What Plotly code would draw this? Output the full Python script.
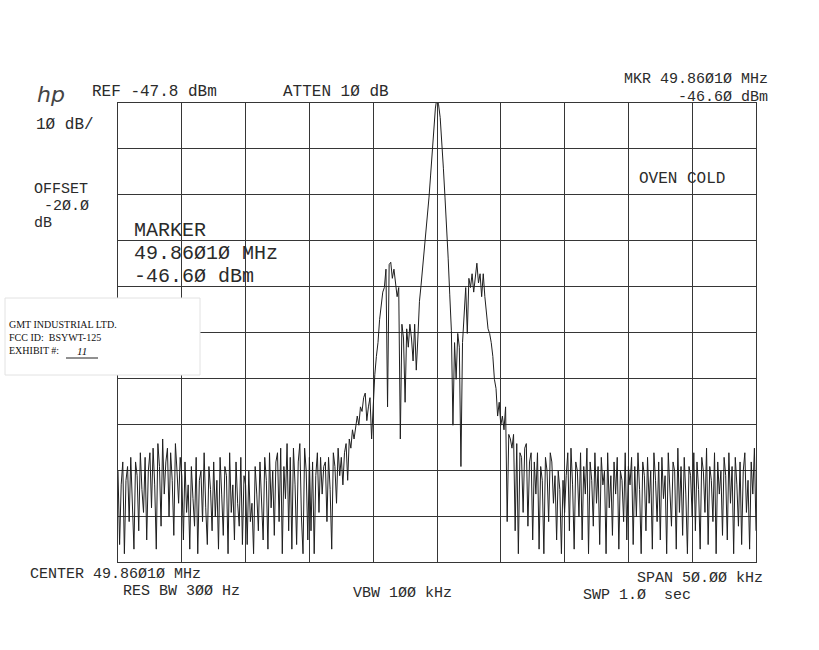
import numpy as np
import plotly.graph_objects as go

# ---------------- data (read from the plotter output) ----------------
CENTER_MHZ = 49.86010
SPAN_KHZ = 50.0
REF_DBM = -47.8
DB_PER_DIV = 10
N_DIV_X = 10
N_DIV_Y = 10
MARKER_KHZ = 0.0
MARKER_DBM = -46.60

# sweep points 0..139 (noise floor left of the signal)
noise_left_dbm = [
    -128, -144, -131, -126, -146, -130, -127, -139, -125, -134, -145, -126, -129, -141, -124, -132, -137, -125, -143, -128,
    -124, -136, -123, -131, -145, -122, -127, -140, -121, -133, -126, -123, -138, -124, -130, -142, -122, -128, -135, -125,
    -129, -143, -126, -137, -131, -145, -127, -134, -140, -125, -146, -130, -128, -139, -124, -136, -144, -127, -132, -141,
    -126, -138, -130, -145, -125, -133, -142, -127, -129, -146, -124, -137, -131, -143, -126, -135, -140, -125, -144, -129,
    -131, -144, -128, -139, -135, -146, -127, -133, -141, -126, -137, -143, -125, -130, -145, -124, -136, -128, -142, -126,
    -124, -139, -123, -146, -127, -134, -122, -141, -125, -145, -123, -131, -144, -126, -122, -138, -146, -123, -128, -143,
    -125, -141, -126, -146, -129, -124, -137, -125, -133, -127, -126, -139, -125, -132, -145, -124, -127, -135, -123, -129,
]
# sweep points 140..260 (skirts, sidebands and carrier)
signal_dbm = [
    -125, -131, -124, -122, -130, -121, -123, -119, -121, -118, -116, -118, -114, -115, -112, -111, -117, -114, -112, -121,
    -113, -107, -103, -100, -95, -92, -89, -88, -84, -114, -83, -82.5, -86, -84, -87, -90, -88, -121, -96, -99,
    -113, -97, -101, -96, -99, -104, -96, -106, -99, -91, -87.5, -83.7, -81, -77, -72.9, -68.3, -63.5, -58, -53.7, -48.9,
    -46.6,
    -48.2, -51, -55.9, -62, -68.3, -74.4, -81.6, -89.6, -97.3, -118, -100, -108, -98, -101, -127, -100, -93, -88, -98, -86,
    -88, -85, -89, -85, -82.7, -87, -85, -90, -85, -90, -93, -97, -98, -100, -103, -108, -110, -116, -113, -118,
    -116, -119, -114, -139, -120, -121, -123, -120, -141, -122, -146, -124, -125, -137, -123, -122, -140, -126, -124, -143,
]
# sweep points 261..400 (noise floor right of the signal)
noise_right_dbm = [
    -126, -133, -124, -145, -127, -130, -146, -125, -128, -139, -124, -126, -135, -129, -143, -128, -132, -146, -130, -137,
    -129, -124, -141, -123, -131, -145, -126, -128, -138, -124, -143, -127, -133, -123, -146, -126, -130, -140, -124, -135,
    -127, -144, -125, -131, -128, -146, -124, -136, -129, -142, -126, -133, -125, -145, -128, -130, -139, -124, -143, -127,
    -131, -125, -144, -127, -138, -124, -132, -146, -126, -129, -141, -125, -135, -128, -145, -124, -130, -139, -126, -143,
    -125, -134, -129, -146, -124, -131, -140, -126, -128, -145, -123, -137, -127, -142, -125, -133, -146, -127, -129, -138,
    -124, -141, -126, -132, -145, -125, -128, -137, -123, -144, -127, -130, -139, -124, -146, -126, -133, -128, -142, -125,
    -129, -143, -124, -135, -127, -146, -125, -131, -140, -126, -144, -128, -124, -137, -130, -145, -126, -133, -123, -141,
]

trace_dbm = noise_left_dbm + signal_dbm + noise_right_dbm
freq_khz = np.linspace(-SPAN_KHZ / 2, SPAN_KHZ / 2, len(trace_dbm))

# ---------------- layout geometry ----------------
FIG_W, FIG_H = 819, 650
L, R, T, B = 118, 756, 103, 562      # plot area in pixels
PW, PH = R - L, B - T
INK = "#2b2b2b"
MONO = "Liberation Mono, DejaVu Sans Mono, monospace"
SERIF = "Liberation Serif, DejaVu Serif, serif"
FS = 15


def px(x):
    return (x - L) / PW


def py(y):
    return (B - y) / PH


def ann(text, x, y, xanchor="left", size=FS, family=MONO, color=INK):
    return dict(text=text, x=px(x), y=py(y), xref="paper", yref="paper",
                xanchor=xanchor, yanchor="middle", showarrow=False,
                font=dict(family=family, size=size, color=color))


fig = go.Figure()
fig.add_trace(go.Scatter(
    x=freq_khz, y=trace_dbm, mode="lines",
    line=dict(color="#1f1f1f", width=1), hoverinfo="skip", showlegend=False))
fig.add_trace(go.Scatter(
    x=[MARKER_KHZ], y=[MARKER_DBM], mode="markers",
    marker=dict(symbol="diamond-open", size=5, color="#1f1f1f", line=dict(width=1)),
    showlegend=False, hoverinfo="skip"))

bottom = REF_DBM - DB_PER_DIV * N_DIV_Y
fig.update_xaxes(range=[-SPAN_KHZ / 2, SPAN_KHZ / 2], tick0=-SPAN_KHZ / 2,
                 dtick=SPAN_KHZ / N_DIV_X, showgrid=True, gridcolor="#363636",
                 gridwidth=1, zeroline=False, showticklabels=False, ticks="",
                 showline=True, linecolor="#363636", linewidth=1, mirror=True)
fig.update_yaxes(range=[bottom, REF_DBM], tick0=REF_DBM, dtick=DB_PER_DIV,
                 showgrid=True, gridcolor="#363636", gridwidth=1, zeroline=False,
                 showticklabels=False, ticks="", showline=True,
                 linecolor="#363636", linewidth=1, mirror=True)

annotations = [
    ann("<i>hp</i>", 35, 94, size=22, family="DejaVu Sans, sans-serif", color="#444"),
    ann("REF -47.8 dBm", 90, 92, size=16),
    ann("ATTEN 1Ø dB", 336, 92, xanchor="center", size=16),
    ann("MKR 49.86Ø1Ø MHz", 770, 79.5, xanchor="right"),
    ann("-46.6Ø dBm", 770, 97, xanchor="right"),
    ann("1Ø dB/", 34, 125, size=16),
    ann("OFFSET", 32, 189.5),
    ann("-2Ø.Ø", 42, 206.5),
    ann("dB", 32, 223.5),
    ann("MARKER", 132, 230.5, size=20),
    ann("49.86Ø1Ø MHz", 132, 253.5, size=20),
    ann("-46.6Ø dBm", 132, 276.5, size=20),
    ann("OVEN COLD", 682, 179, xanchor="center", size=16),
    ann("CENTER 49.86Ø1Ø MHz", 28, 574),
    ann("RES BW 3ØØ Hz", 121, 591.5),
    ann("VBW 1ØØ kHz", 402, 593, xanchor="center"),
    ann("SPAN 5Ø.ØØ kHz", 765, 578, xanchor="right"),
    ann("SWP 1.Ø  sec", 581, 595.5),
    ann("GMT INDUSTRIAL LTD.", 7, 324.5, size=10, family=SERIF, color="#111"),
    ann("FCC ID:  BSYWT-125", 7, 337.5, size=10, family=SERIF, color="#111"),
    ann("EXHIBIT #:", 7, 350.5, size=10, family=SERIF, color="#111"),
    ann("<i>11</i>", 82, 351, xanchor="center", size=11, family=SERIF, color="#111"),
]

shapes = [
    dict(type="rect", xref="paper", yref="paper", x0=px(5), x1=px(200),
         y0=py(375), y1=py(298), fillcolor="white",
         line=dict(color="#e2e2e2", width=1), layer="above"),
    dict(type="line", xref="paper", yref="paper", x0=px(66), x1=px(98),
         y0=py(358), y1=py(358), line=dict(color="#222", width=1)),
]

fig.update_layout(
    width=FIG_W, height=FIG_H,
    margin=dict(l=L, r=FIG_W - R, t=T, b=FIG_H - B, pad=0),
    paper_bgcolor="white", plot_bgcolor="white",
    showlegend=False, annotations=annotations, shapes=shapes,
)

fig.write_html("out.html", config={"displayModeBar": False},
               post_script="document.body.style.margin='0';document.body.style.overflow='hidden';")
